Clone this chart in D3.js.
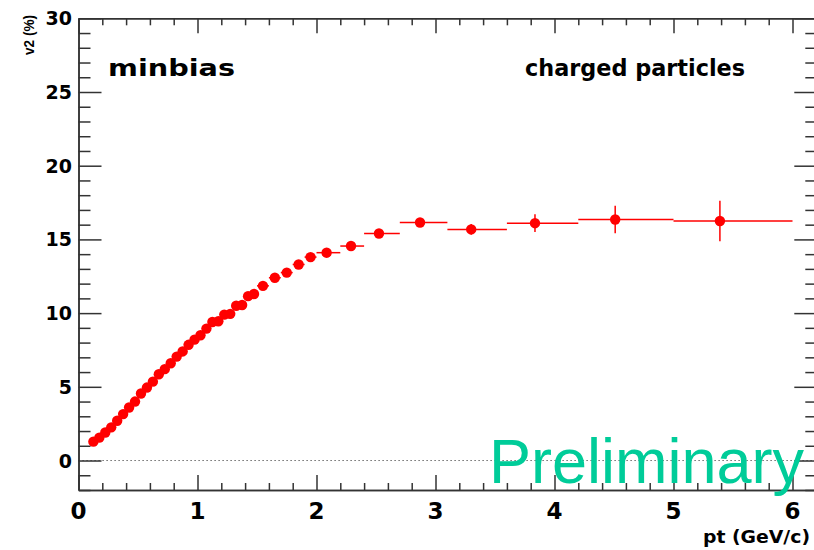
<!DOCTYPE html>
<html>
<head>
<meta charset="utf-8">
<script src="https://cdn.jsdelivr.net/npm/d3@7"></script>
<style>
  html, body { margin: 0; padding: 0; background: #fff; }
  svg { display: block; }
  .bold { font-family: "DejaVu Sans", sans-serif; font-weight: bold; fill: #000; }
</style>
</head>
<body>
<svg id="chart" width="814" height="550"></svg>
<script>
// ---- data ----
const pt = [0.125,0.175,0.225,0.275,0.325,0.375,0.425,0.475,0.525,0.575,0.625,0.675,0.725,0.775,0.825,0.875,0.925,0.975,
            1.025,1.075,1.125,1.175,1.225,1.275,1.325,1.375,1.425,1.475,1.55,1.65,1.75,1.85,1.95,
            2.085,2.29,2.525,2.87,3.30,3.836,4.51,5.39];
const v2 = [1.28,1.55,1.9,2.25,2.7,3.15,3.6,4.0,4.55,4.95,5.35,5.85,6.2,6.6,7.05,7.4,7.85,8.2,
            8.5,8.95,9.4,9.45,9.9,9.95,10.5,10.55,11.15,11.3,11.85,12.4,12.75,13.3,13.8,
            14.1,14.55,15.4,16.15,15.68,16.1,16.35,16.25];
const ptLow = [0.1,0.15,0.2,0.25,0.3,0.35,0.4,0.45,0.5,0.55,0.6,0.65,0.7,0.75,0.8,0.85,0.9,0.95,
               1.0,1.05,1.1,1.15,1.2,1.25,1.3,1.35,1.4,1.45,1.5,1.6,1.7,1.8,1.9,
               2.0,2.2,2.4,2.7,3.1,3.6,4.2,5.0];
const ptHigh = [0.15,0.2,0.25,0.3,0.35,0.4,0.45,0.5,0.55,0.6,0.65,0.7,0.75,0.8,0.85,0.9,0.95,1.0,
                1.05,1.1,1.15,1.2,1.25,1.3,1.35,1.4,1.45,1.5,1.6,1.7,1.8,1.9,2.0,
                2.2,2.4,2.7,3.1,3.6,4.2,5.0,6.0];
const v2Err = [0.05,0.05,0.05,0.05,0.05,0.05,0.05,0.05,0.05,0.05,0.05,0.05,0.05,0.05,0.06,0.06,0.06,0.07,
               0.07,0.08,0.08,0.09,0.09,0.1,0.1,0.11,0.11,0.12,0.1,0.11,0.12,0.13,0.14,
               0.12,0.15,0.18,0.22,0.37,0.6,0.93,1.37];
const xTicks = [0,1,2,3,4,5,6];
const yTicks = [0,5,10,15,20,25,30];
const xTitle = "pt (GeV/c)";
const yTitle = "v2 (%)";
const labelLeft = "minbias";
const labelRight = "charged particles";
const watermark = "Preliminary";

// ---- scales ----
const svg = d3.select("#chart");
const x = d3.scaleLinear().domain([0, 6.2]).range([78.5, 816.3]);
const y = d3.scaleLinear().domain([-2, 30]).range([490, 18.3]);
const axisColor = "#333";

// zero dotted line
svg.append("line")
  .attr("x1", x(0)).attr("x2", x(6.2))
  .attr("y1", y(0)).attr("y2", y(0))
  .attr("stroke", "#444").attr("stroke-width", 1)
  .attr("stroke-dasharray", "1.2,2.8");

// ---- axes ----
function styleAxis(g) {
  g.selectAll("path.domain").attr("stroke", axisColor).attr("stroke-width", 1.5);
  g.selectAll(".tick line").attr("stroke", axisColor).attr("stroke-width", 1.5);
}
const xMinor = d3.range(0, 6.2001, 0.2).map(v => +v.toFixed(2)).filter(v => Math.abs(v - Math.round(v)) > 1e-6);
const yMinor = d3.range(-2, 30.001, 1).filter(v => v % 5 !== 0);

// bottom
const gB = svg.append("g").attr("transform", `translate(0,${y(-2)})`);
gB.call(d3.axisTop(x).tickValues(xMinor).tickSize(7).tickFormat("").tickSizeOuter(0));
gB.call(g => g.append("g").call(d3.axisTop(x).tickValues(xTicks).tickSize(15).tickFormat("").tickSizeOuter(0)));
styleAxis(gB);
// top
const gT = svg.append("g").attr("transform", `translate(0,${y(30)})`);
gT.call(d3.axisBottom(x).tickValues(xMinor).tickSize(7).tickFormat("").tickSizeOuter(0));
gT.call(g => g.append("g").call(d3.axisBottom(x).tickValues(xTicks).tickSize(15).tickFormat("").tickSizeOuter(0)));
styleAxis(gT);
// left
const gL = svg.append("g").attr("transform", `translate(${x(0)},0)`);
gL.call(d3.axisRight(y).tickValues(yMinor).tickSize(12).tickFormat("").tickSizeOuter(0));
gL.call(g => g.append("g").call(d3.axisRight(y).tickValues(yTicks).tickSize(23).tickFormat("").tickSizeOuter(0)));
styleAxis(gL);
// right
const gR = svg.append("g").attr("transform", `translate(${x(6.2)},0)`);
gR.call(d3.axisLeft(y).tickValues(yMinor).tickSize(11).tickFormat("").tickSizeOuter(0));
gR.call(g => g.append("g").call(d3.axisLeft(y).tickValues(yTicks).tickSize(22).tickFormat("").tickSizeOuter(0)));
styleAxis(gR);

// tick labels
svg.append("g").selectAll("text").data(xTicks).join("text")
  .attr("class", "bold")
  .attr("x", d => x(d)).attr("y", 519)
  .attr("text-anchor", "middle")
  .style("font-size", "23px")
  .text(d => d);
svg.append("g").selectAll("text").data(yTicks).join("text")
  .attr("class", "bold")
  .attr("x", 72).attr("y", d => y(d) + 7)
  .attr("text-anchor", "end")
  .style("font-size", "19px")
  .text(d => d);

// axis titles
svg.append("text")
  .attr("transform", `translate(34,15) rotate(-90)`)
  .attr("text-anchor", "end")
  .attr("textLength", 40).attr("lengthAdjust", "spacingAndGlyphs")
  .style("font-family", "'Liberation Sans', Arial, sans-serif")
  .style("font-weight", "bold")
  .style("font-size", "15px")
  .text(yTitle);
svg.append("text").attr("class", "bold")
  .attr("x", 703).attr("y", 543)
  .attr("textLength", 107).attr("lengthAdjust", "spacingAndGlyphs")
  .style("font-size", "18px")
  .text(xTitle);

// labels
svg.append("text").attr("class", "bold")
  .attr("x", 108).attr("y", 76)
  .attr("textLength", 127).attr("lengthAdjust", "spacingAndGlyphs")
  .style("font-size", "23px")
  .text(labelLeft);
svg.append("text").attr("class", "bold")
  .attr("x", 525).attr("y", 76)
  .attr("textLength", 220).attr("lengthAdjust", "spacingAndGlyphs")
  .style("font-size", "23px")
  .text(labelRight);

// ---- data marks ----
const data = pt.map((p, i) => ({pt: p, v: v2[i], lo: ptLow[i], hi: ptHigh[i], e: v2Err[i]}));
const gD = svg.append("g");
gD.selectAll("line.h").data(data).join("line")
  .attr("x1", d => x(d.lo)).attr("x2", d => x(d.hi))
  .attr("y1", d => y(d.v)).attr("y2", d => y(d.v))
  .attr("stroke", "#ff0000").attr("stroke-width", 1.5);
gD.selectAll("line.v").data(data).join("line")
  .attr("x1", d => x(d.pt)).attr("x2", d => x(d.pt))
  .attr("y1", d => y(d.v - d.e)).attr("y2", d => y(d.v + d.e))
  .attr("stroke", "#ff0000").attr("stroke-width", 1.5);
gD.selectAll("circle").data(data).join("circle")
  .attr("cx", d => x(d.pt)).attr("cy", d => y(d.v))
  .attr("r", 5.2).attr("fill", "#ff0000");

// watermark
svg.append("text")
  .attr("x", 489).attr("y", 482.5)
  .style("font-family", "'Liberation Sans', Arial, sans-serif")
  .style("font-size", "63px")
  .attr("fill", "#00cc99")
  .text(watermark);
</script>
</body>
</html>
